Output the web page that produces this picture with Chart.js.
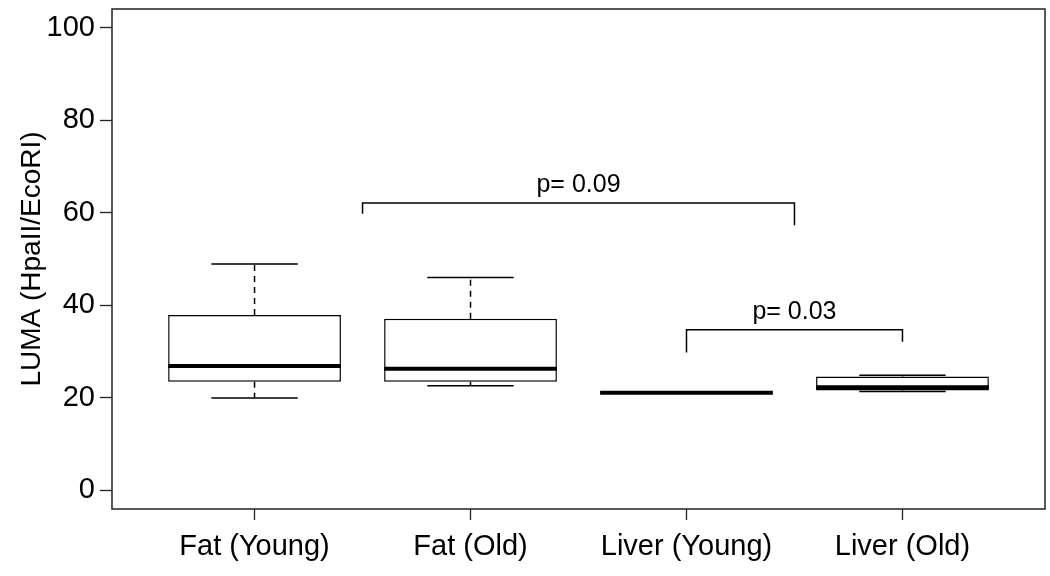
<!DOCTYPE html>
<html>
<head>
<meta charset="utf-8">
<script src="https://cdn.jsdelivr.net/npm/chart.js@4.4.1/dist/chart.umd.min.js"></script>
<style>
html,body{margin:0;padding:0;background:#fff;}
#wrap{width:1050px;height:576px;}
</style>
</head>
<body>
<div id="wrap"><canvas id="c" width="1050" height="576"></canvas></div>
<script>
// ---- data ----
const categories = ['Fat (Young)', 'Fat (Old)', 'Liver (Young)', 'Liver (Old)'];
const whiskerLow  = [20.0, 22.6, 21.1, 21.4];
const q1          = [23.5, 23.5, 21.1, 21.6];
const median      = [26.9, 26.3, 21.1, 22.3];
const q3          = [37.9, 37.1, 21.1, 24.6];
const whiskerHigh = [48.9, 46.0, 21.1, 24.9];
const yTicks = [0, 20, 40, 60, 80, 100];

// significance brackets (data units): [xLeft, xRight], [yLeftEnd, yTop, yRightEnd]
const bracketX = [[1.5, 3.5], [3.0, 4.0]];
const bracketY = [[59.8, 62.1, 57.3], [29.8, 34.7, 32.1]];
const pLabels = ['p= 0.09', 'p= 0.03'];
const pLabelY = [64.5, 37.0];

const FONT = "'Liberation Sans', Arial, Helvetica, sans-serif";
const BOX_HALF = 0.4, CAP_HALF = 0.2;

function segs(list){ const out=[]; list.forEach(s=>{ out.push(s[0], s[1], {x:s[1].x, y:null}); }); return out; }
const pos = categories.map((_, i) => i + 1);
const medianData = segs(pos.map((x,i)=>[{x:x-BOX_HALF,y:median[i]},{x:x+BOX_HALF,y:median[i]}]));
const whiskerData = segs(pos.flatMap((x,i)=>[
  [{x:x,y:q3[i]},{x:x,y:whiskerHigh[i]}],
  [{x:x,y:q1[i]},{x:x,y:whiskerLow[i]}]
]));
const capData = segs(pos.flatMap((x,i)=>[
  [{x:x-CAP_HALF,y:whiskerHigh[i]},{x:x+CAP_HALF,y:whiskerHigh[i]}],
  [{x:x-CAP_HALF,y:whiskerLow[i]},{x:x+CAP_HALF,y:whiskerLow[i]}]
]));
const bracketPts = [];
bracketX.forEach((bx,k)=>{
  bracketPts.push({x:bx[0],y:bracketY[k][0]},{x:bx[0],y:bracketY[k][1]},{x:bx[1],y:bracketY[k][1]},{x:bx[1],y:bracketY[k][2]},{x:bx[1],y:null});
});

const lineBase = {type:'line', pointRadius:0, borderColor:'#000', spanGaps:false, tension:0, fill:false, order:1};

const frame = {
  id:'frame',
  afterDatasetsDraw(chart){
    const {ctx, chartArea:a, scales:{x,y}} = chart;
    ctx.save();
    ctx.strokeStyle = '#222';
    ctx.lineWidth = 1.5;
    ctx.strokeRect(a.left, a.top, a.right - a.left, a.bottom - a.top);
    ctx.fillStyle = '#000';
    ctx.font = "25px " + FONT;
    ctx.textAlign = 'center';
    ctx.textBaseline = 'alphabetic';
    pLabels.forEach((t,k)=>{
      const cx = (bracketX[k][0] + bracketX[k][1]) / 2;
      ctx.fillText(t, x.getPixelForValue(cx), y.getPixelForValue(pLabelY[k]));
    });
    ctx.restore();
  }
};

new Chart(document.getElementById('c'), {
  data: {
    datasets: [
      {type:'bar', data: pos.map((x,i)=>({x:x, y:[q1[i], q3[i]]})), backgroundColor:'#fff', borderColor:'#000', borderWidth:1.5, borderSkipped:false, barPercentage:0.8, categoryPercentage:1, order:5},
      Object.assign({}, lineBase, {data: whiskerData, borderWidth:1.5, borderDash:[6,5]}),
      Object.assign({}, lineBase, {data: capData, borderWidth:1.5}),
      Object.assign({}, lineBase, {data: medianData, borderWidth:4, borderCapStyle:'butt'}),
      Object.assign({}, lineBase, {data: bracketPts, borderWidth:1.5})
    ]
  },
  options: {
    responsive:false, animation:false,
    layout:{padding:{left:0, top:9, right:5, bottom:0}},
    plugins:{legend:{display:false}, tooltip:{enabled:false}},
    scales:{
      x:{
        type:'linear', min:0.34, max:4.66, offset:false,
        afterBuildTicks(s){ s.ticks = pos.map(v=>({value:v})); },
        afterFit(s){ s.height = 67; s.paddingLeft = 0; s.paddingRight = 0; },
        ticks:{ callback:(v)=>categories[Math.round(v)-1] || '', color:'#000', font:{family:FONT, size:29}, padding:10, maxRotation:0, autoSkip:false },
        grid:{display:true, offset:false, drawOnChartArea:false, drawTicks:true, tickLength:11, tickColor:'#222', tickWidth:1.3},
        border:{display:false}
      },
      y:{
        type:'linear', min:-4, max:104,
        afterBuildTicks(s){ s.ticks = yTicks.map(v=>({value:v})); },
        afterFit(s){ s.width = 112; s.paddingTop = 0; s.paddingBottom = 0; },
        ticks:{ color:'#000', font:{family:FONT, size:29}, padding:5 },
        grid:{display:true, drawOnChartArea:false, drawTicks:true, tickLength:12, tickColor:'#222', tickWidth:1.3},
        border:{display:false},
        title:{display:true, text:'LUMA (HpaII/EcoRI)', color:'#000', font:{family:FONT, size:28}, padding:{top:15, bottom:0}}
      }
    }
  },
  plugins:[frame]
});
</script>
</body>
</html>
